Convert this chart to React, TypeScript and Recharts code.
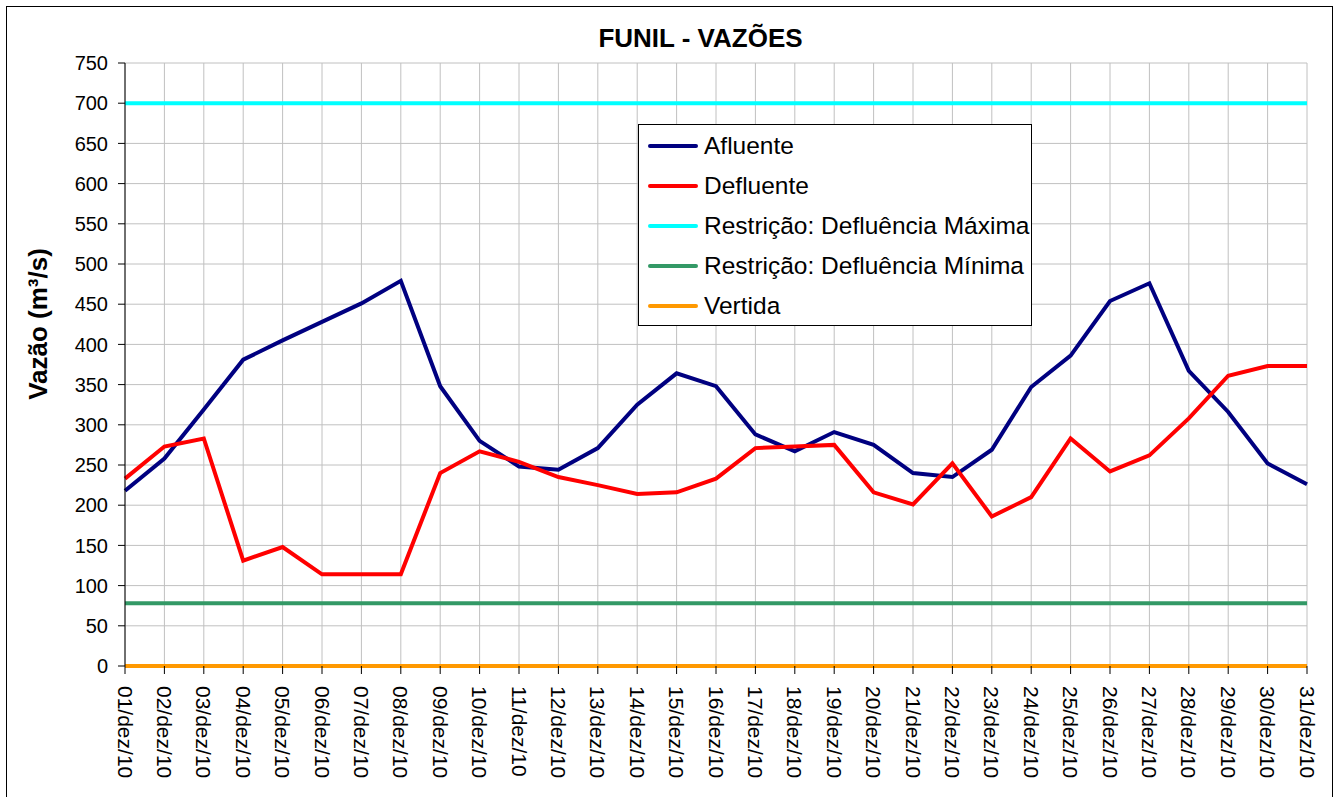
import React from 'react';
import { LineChart, Line, XAxis, YAxis, CartesianGrid } from 'recharts';

// dias de dezembro/2010
const days = [
  '01/dez/10', '02/dez/10', '03/dez/10', '04/dez/10', '05/dez/10', '06/dez/10', '07/dez/10',
  '08/dez/10', '09/dez/10', '10/dez/10', '11/dez/10', '12/dez/10', '13/dez/10', '14/dez/10',
  '15/dez/10', '16/dez/10', '17/dez/10', '18/dez/10', '19/dez/10', '20/dez/10', '21/dez/10',
  '22/dez/10', '23/dez/10', '24/dez/10', '25/dez/10', '26/dez/10', '27/dez/10', '28/dez/10',
  '29/dez/10', '30/dez/10', '31/dez/10'
];

const afluente = [
  218, 258, 319, 381, 405, 428, 451, 479, 348, 280, 248, 244, 271, 325, 364, 348,
  288, 267, 291, 275, 240, 235, 269, 347, 386, 454, 476, 367, 316, 252, 226
];

const defluente = [
  233, 273, 283, 131, 148, 114, 114, 114, 240, 267, 254, 235, 225, 214, 216, 233,
  271, 273, 275, 216, 201, 252, 186, 210, 283, 242, 262, 308, 361, 373, 373
];

const defMaxima = 700;
const defMinima = 78;
const vertida = 0;

const yTicks = [0, 50, 100, 150, 200, 250, 300, 350, 400, 450, 500, 550, 600, 650, 700, 750];

const series = [
  { key: 'afluente', name: 'Afluente', color: '#000080' },
  { key: 'defluente', name: 'Defluente', color: '#FF0000' },
  { key: 'maxima', name: 'Restrição: Defluência Máxima', color: '#00FFFF' },
  { key: 'minima', name: 'Restrição: Defluência Mínima', color: '#339966' },
  { key: 'vertida', name: 'Vertida', color: '#FF9900' }
];

const data = days.map((d, i) => ({
  dia: d,
  afluente: afluente[i],
  defluente: defluente[i],
  maxima: defMaxima,
  minima: defMinima,
  vertida: vertida
}));

const font = 'Arial, "Liberation Sans", sans-serif';

const DayTick = (props: any) => {
  const { x, y, payload } = props;
  return (
    <g transform={`translate(${x},${y})`}>
      <text
        transform="rotate(90)"
        x={0}
        y={0}
        dy="0.35em"
        textAnchor="start"
        fontSize={21}
        fontFamily={font}
        fill="#000"
      >
        {payload.value}
      </text>
    </g>
  );
};

const LegendBox = () => (
  <div
    style={{
      position: 'absolute',
      left: 638,
      top: 124,
      width: 394,
      height: 202,
      border: '1px solid #000',
      background: '#fff',
      boxSizing: 'border-box',
      paddingTop: 1,
      fontFamily: font
    }}
  >
    {series.map(s => (
      <div key={s.key} style={{ display: 'flex', alignItems: 'center', height: 40 }}>
        <div style={{ width: 50, height: 4, borderRadius: 2, background: s.color, marginLeft: 9, marginRight: 6 }} />
        <span style={{ fontSize: 24.5, color: '#000', whiteSpace: 'nowrap' }}>{s.name}</span>
      </div>
    ))}
  </div>
);

export default function App() {
  return (
    <div style={{ position: 'absolute', left: 0, top: 0, width: 1339, height: 797, background: '#fff', overflow: 'hidden' }}>
      <div
        style={{
          position: 'absolute',
          left: 6,
          top: 6,
          width: 1327,
          height: 800,
          border: '1px solid #000',
          boxSizing: 'border-box'
        }}
      />
      <div style={{ position: 'absolute', left: 0, top: 0 }}>
        <LineChart
          width={1339}
          height={797}
          data={data}
          margin={{ top: 63, right: 32, left: 65, bottom: 6 }}
        >
          <CartesianGrid stroke="#c0c0c0" strokeWidth={1} />
          <XAxis
            dataKey="dia"
            interval={0}
            height={125}
            tick={<DayTick />}
            tickSize={8}
            tickMargin={12}
            axisLine={false}
            tickLine={{ stroke: '#000' }}
          />
          <YAxis
            domain={[0, 750]}
            ticks={yTicks}
            width={60}
            tickSize={7}
            tickMargin={10}
            interval={0}
            axisLine={{ stroke: '#000' }}
            tickLine={{ stroke: '#000' }}
            tick={{ fontSize: 20, fill: '#000', fontFamily: font }}
          />
          {series.map(s => (
            <Line
              key={s.key}
              type="linear"
              dataKey={s.key}
              name={s.name}
              stroke={s.color}
              strokeWidth={4}
              dot={false}
              activeDot={false}
              isAnimationActive={false}
            />
          ))}
        </LineChart>
      </div>
      <div
        style={{
          position: 'absolute',
          left: 0,
          width: 1339,
          top: 23,
          textAlign: 'center',
          paddingLeft: 62,
          boxSizing: 'border-box',
          fontFamily: font,
          fontWeight: 'bold',
          fontSize: 26
        }}
      >
        FUNIL - VAZÕES
      </div>
      <div
        style={{
          position: 'absolute',
          left: 38,
          top: 324,
          transform: 'translate(-50%, -50%) rotate(-90deg)',
          whiteSpace: 'nowrap',
          fontFamily: font,
          fontWeight: 'bold',
          fontSize: 26
        }}
      >
        Vazão (m³/s)
      </div>
      <LegendBox />
    </div>
  );
}
